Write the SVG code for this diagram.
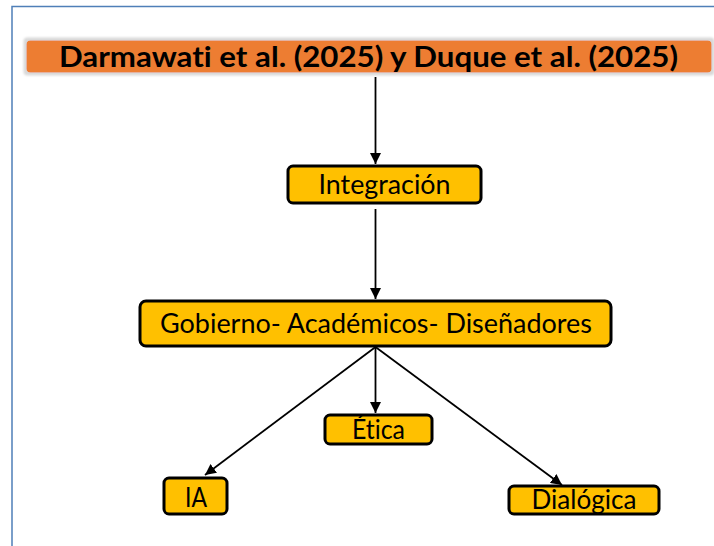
<svg xmlns="http://www.w3.org/2000/svg" width="714" height="546" viewBox="0 0 714 546">
<defs>
<marker id="ah" viewBox="0 0 10 10" refX="10" refY="5" markerWidth="11" markerHeight="11" markerUnits="userSpaceOnUse" orient="auto">
<path d="M0,0 L10,5 L0,10 z" fill="#000"/>
</marker>
<filter id="glow" x="-5%" y="-30%" width="110%" height="160%">
<feMorphology in="SourceAlpha" operator="dilate" radius="3" result="d"/>
<feGaussianBlur in="d" stdDeviation="1.2" result="b"/>
<feFlood flood-color="#d9d9d9"/>
<feComposite in2="b" operator="in" result="s"/>
<feMerge><feMergeNode in="s"/><feMergeNode in="SourceGraphic"/></feMerge>
</filter>
</defs>
<style>
.box{fill:#FFC000;stroke:#000;stroke-width:3}
.t{font-family:Lato,"Liberation Sans",Arial,sans-serif;font-size:26px;fill:#000;text-anchor:middle;font-variant-ligatures:none}
.title{font-family:Lato,"Liberation Sans",Arial,sans-serif;font-size:28px;font-weight:bold;fill:#000;text-anchor:middle;font-variant-ligatures:none}
.c{stroke:#000;stroke-width:1.8;fill:none;marker-end:url(#ah)}
</style>
<rect x="0" y="0" width="714" height="546" fill="#fff"/>
<path d="M12,546 V6.5 H714" fill="none" stroke="#4f7fb8" stroke-width="1.5"/>
<g id="title">
<rect x="26.5" y="40.5" width="685" height="32" rx="4" fill="#ED7D31" filter="url(#glow)"/>
<text class="title" x="368.5" y="67" textLength="619" lengthAdjust="spacingAndGlyphs">Darmawati et al. (2025) y Duque et al. (2025)</text>
</g>
<g id="connectors">
<line class="c" x1="375.5" y1="77" x2="375.5" y2="164"/>
<line class="c" x1="375.5" y1="209" x2="375.5" y2="299"/>
<line class="c" x1="375.5" y1="347" x2="375.5" y2="413"/>
<line class="c" x1="375.5" y1="347" x2="205" y2="475"/>
<line class="c" x1="375.5" y1="347" x2="562" y2="485"/>
</g>
<g id="integracion">
<rect class="box" x="288" y="166" width="193" height="37" rx="5"/>
<text class="t" x="384.5" y="194" textLength="132" lengthAdjust="spacingAndGlyphs">Integración</text>
</g>
<g id="gobierno">
<rect class="box" x="140" y="301" width="471" height="45" rx="6"/>
<text class="t" x="376" y="333" textLength="432" lengthAdjust="spacingAndGlyphs">Gobierno- Académicos- Diseñadores</text>
</g>
<g id="etica">
<rect class="box" x="325" y="415" width="107" height="29" rx="5"/>
<text class="t" x="378.5" y="439" textLength="53" lengthAdjust="spacingAndGlyphs">Ética</text>
</g>
<g id="ia">
<rect class="box" x="164" y="478" width="63" height="36" rx="5"/>
<text class="t" x="196" y="507" textLength="22" lengthAdjust="spacingAndGlyphs">IA</text>
</g>
<g id="dialogica">
<rect class="box" x="509" y="486" width="150" height="28" rx="5"/>
<text class="t" x="584" y="509" textLength="105" lengthAdjust="spacingAndGlyphs">Dialógica</text>
</g>
</svg>
